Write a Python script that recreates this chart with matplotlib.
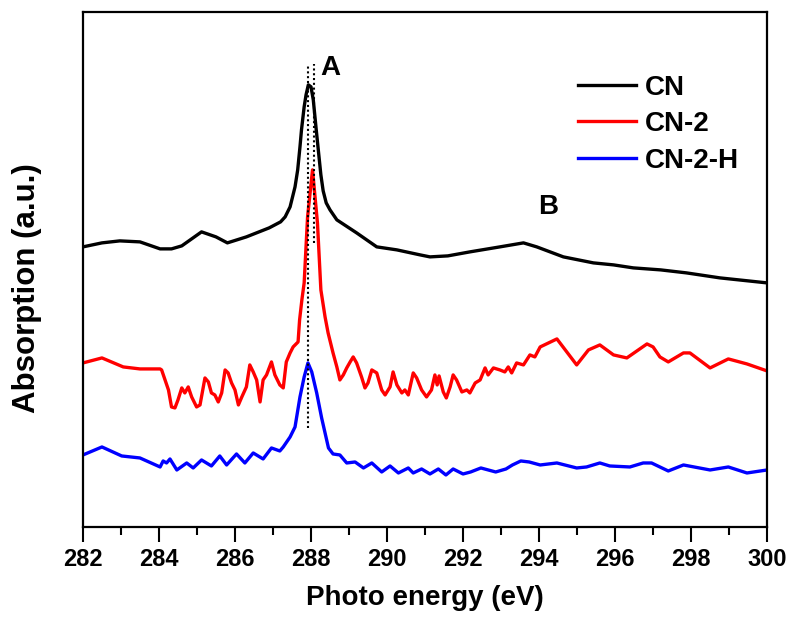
import numpy as np
import matplotlib.pyplot as plt

plt.rcParams['font.family'] = ['Liberation Sans', 'DejaVu Sans']
plt.rcParams['font.weight'] = 'bold'

# CN (black)
cn_x = [282, 282.5, 282.97, 283.5, 284.03, 284.33, 284.6, 285.12, 285.5, 285.8,
        286.3, 286.9, 287.2, 287.32, 287.45, 287.58, 287.65, 287.71, 287.75, 287.82,
        287.87, 287.93, 288.0, 288.06, 288.13, 288.2, 288.26, 288.32, 288.4, 288.5,
        288.68, 289.2, 289.73, 290.26, 290.87, 291.13, 291.6, 292.18, 292.97, 293.59,
        293.94, 294.64, 295.43, 295.96, 296.48, 297.2, 297.88, 298.76, 300]
cn_y = [280, 284, 286, 285, 278, 278, 281, 295, 290, 284,
        290, 299, 305, 310, 320, 340, 357, 380, 397, 420,
        432, 442, 440, 427, 400, 374, 352, 336, 324, 317,
        307, 294, 280, 277, 272, 270, 271, 275, 280, 284,
        280, 270, 264, 262, 259, 257, 254, 249, 244]

# CN-2 (red)
cn2_x = [282.0, 282.5, 283.06, 283.5, 284.03, 284.07, 284.16, 284.25, 284.33, 284.42,
         284.5, 284.6, 284.68, 284.77, 284.86, 284.99, 285.08, 285.21, 285.3, 285.38,
         285.47, 285.56, 285.65, 285.74, 285.82, 285.91, 286.0, 286.09, 286.18, 286.3,
         286.39, 286.48, 286.57, 286.66, 286.74, 286.83, 286.96, 287.05, 287.18, 287.27,
         287.35, 287.45, 287.53, 287.66, 287.7, 287.76, 287.82, 287.91, 288.04, 288.17,
         288.26, 288.37, 288.45, 288.58, 288.68, 288.76, 288.85, 288.94, 289.03, 289.11,
         289.2, 289.33, 289.42, 289.5, 289.6, 289.73, 289.86, 289.95, 290.08, 290.16,
         290.26, 290.39, 290.47, 290.56, 290.69, 290.78, 290.91, 291.04, 291.17, 291.26,
         291.32, 291.37, 291.48, 291.56, 291.66, 291.74, 291.83, 291.97, 292.1, 292.18,
         292.32, 292.45, 292.58, 292.66, 292.8, 292.97, 293.1, 293.19, 293.28, 293.41,
         293.59, 293.76, 293.89, 294.03, 294.47, 294.99, 295.3, 295.6, 295.96, 296.31,
         296.84, 297.0, 297.18, 297.4, 297.8, 297.97, 298.5, 298.98, 299.47, 300.0]
cn2_y = [164, 169, 160, 158, 158, 157, 147, 137, 120, 119,
         127, 139, 134, 140, 130, 120, 122, 149, 145, 134,
         132, 125, 134, 157, 154, 144, 137, 122, 130, 140,
         162, 155, 147, 125, 147, 152, 165, 152, 142, 139,
         165, 174, 180, 185, 207, 227, 244, 310, 357, 304,
         237, 210, 194, 174, 160, 147, 152, 159, 165, 170,
         164, 150, 139, 144, 157, 154, 137, 132, 140, 155,
         142, 134, 137, 132, 154, 149, 137, 130, 137, 152,
         142, 151, 135, 129, 140, 152, 147, 135, 137, 134,
         144, 147, 159, 152, 159, 157, 155, 160, 154, 164,
         162, 172, 170, 180, 188, 162, 177, 182, 172, 169,
         183, 180, 170, 165, 174, 174, 159, 168, 163, 156]

# CN-2-H (blue)
cn2h_x = [282.0, 282.5, 283.02, 283.5, 284.03, 284.11, 284.2, 284.29, 284.47, 284.73,
          284.9, 285.12, 285.38, 285.6, 285.78, 286.04, 286.26, 286.48, 286.74, 286.96,
          287.18, 287.27, 287.45, 287.58, 287.71, 287.82, 287.92, 288.02, 288.15, 288.28,
          288.46, 288.58, 288.76, 288.94, 289.16, 289.38, 289.6, 289.86, 290.08, 290.3,
          290.56, 290.69, 290.91, 291.13, 291.35, 291.55, 291.74, 292.0, 292.2, 292.47,
          292.86, 293.13, 293.3, 293.52, 293.74, 294.03, 294.47, 294.99, 295.25, 295.6,
          295.86, 296.39, 296.74, 296.96, 297.4, 297.8, 298.5, 298.98, 299.47, 300.0]
cn2h_y = [72, 80, 71, 69, 60, 66, 64, 68, 57, 64,
          59, 67, 61, 71, 62, 73, 64, 74, 68, 79,
          76, 80, 90, 100, 130, 150, 164, 155, 134, 109,
          79, 73, 72, 64, 65, 59, 64, 55, 61, 54,
          59, 54, 58, 53, 58, 52, 58, 53, 55, 59,
          55, 58, 62, 66, 65, 62, 64, 59, 60, 64,
          61, 60, 64, 64, 56, 62, 57, 60, 54, 57]

# dotted guide lines (x, y_start, y_end)
guides = [(287.92, 99, 463), (288.08, 284, 463)]

fig = plt.figure(figsize=(7.9, 6.2), dpi=100)
ax = fig.add_axes([0.105, 0.15, 0.866, 0.831])

ax.plot(cn_x, cn_y, color='black', lw=2.4, label='CN')
ax.plot(cn2_x, cn2_y, color='red', lw=2.4, label='CN-2')
ax.plot(cn2h_x, cn2h_y, color='blue', lw=2.4, label='CN-2-H')

for gx, y0, y1 in guides:
    ax.plot([gx, gx], [y0, y1], color='black', lw=1.5, ls=(0, (1, 1.3)))

ax.text(288.5, 459, 'A', fontsize=20, fontweight='bold', ha='center', va='center')
ax.text(294.24, 320, 'B', fontsize=20, fontweight='bold', ha='center', va='center')

ax.set_xlim(282, 300)
ax.set_ylim(0, 515)
ax.set_xticks(np.arange(282, 301, 2))
ax.set_xticks(np.arange(283, 300, 2), minor=True)
ax.set_yticks([])
ax.tick_params(axis='x', which='major', direction='out', length=11, width=1.5,
               labelsize=17, pad=4)
ax.tick_params(axis='x', which='minor', direction='out', length=6, width=1.5)
for s in ax.spines.values():
    s.set_linewidth(1.6)

ax.set_xlabel('Photo energy (eV)', fontsize=20, fontweight='bold', labelpad=10)
ax.set_ylabel('Absorption (a.u.)', fontsize=22.5, fontweight='bold')
ax.yaxis.set_label_coords(-0.060, 0.464)

ax.legend(loc='upper left', bbox_to_anchor=(0.703, 0.905), frameon=False,
          fontsize=20, handlelength=2.1, handletextpad=0.3, labelspacing=0.38,
          borderpad=0)

fig.savefig('out.png', dpi=100)
